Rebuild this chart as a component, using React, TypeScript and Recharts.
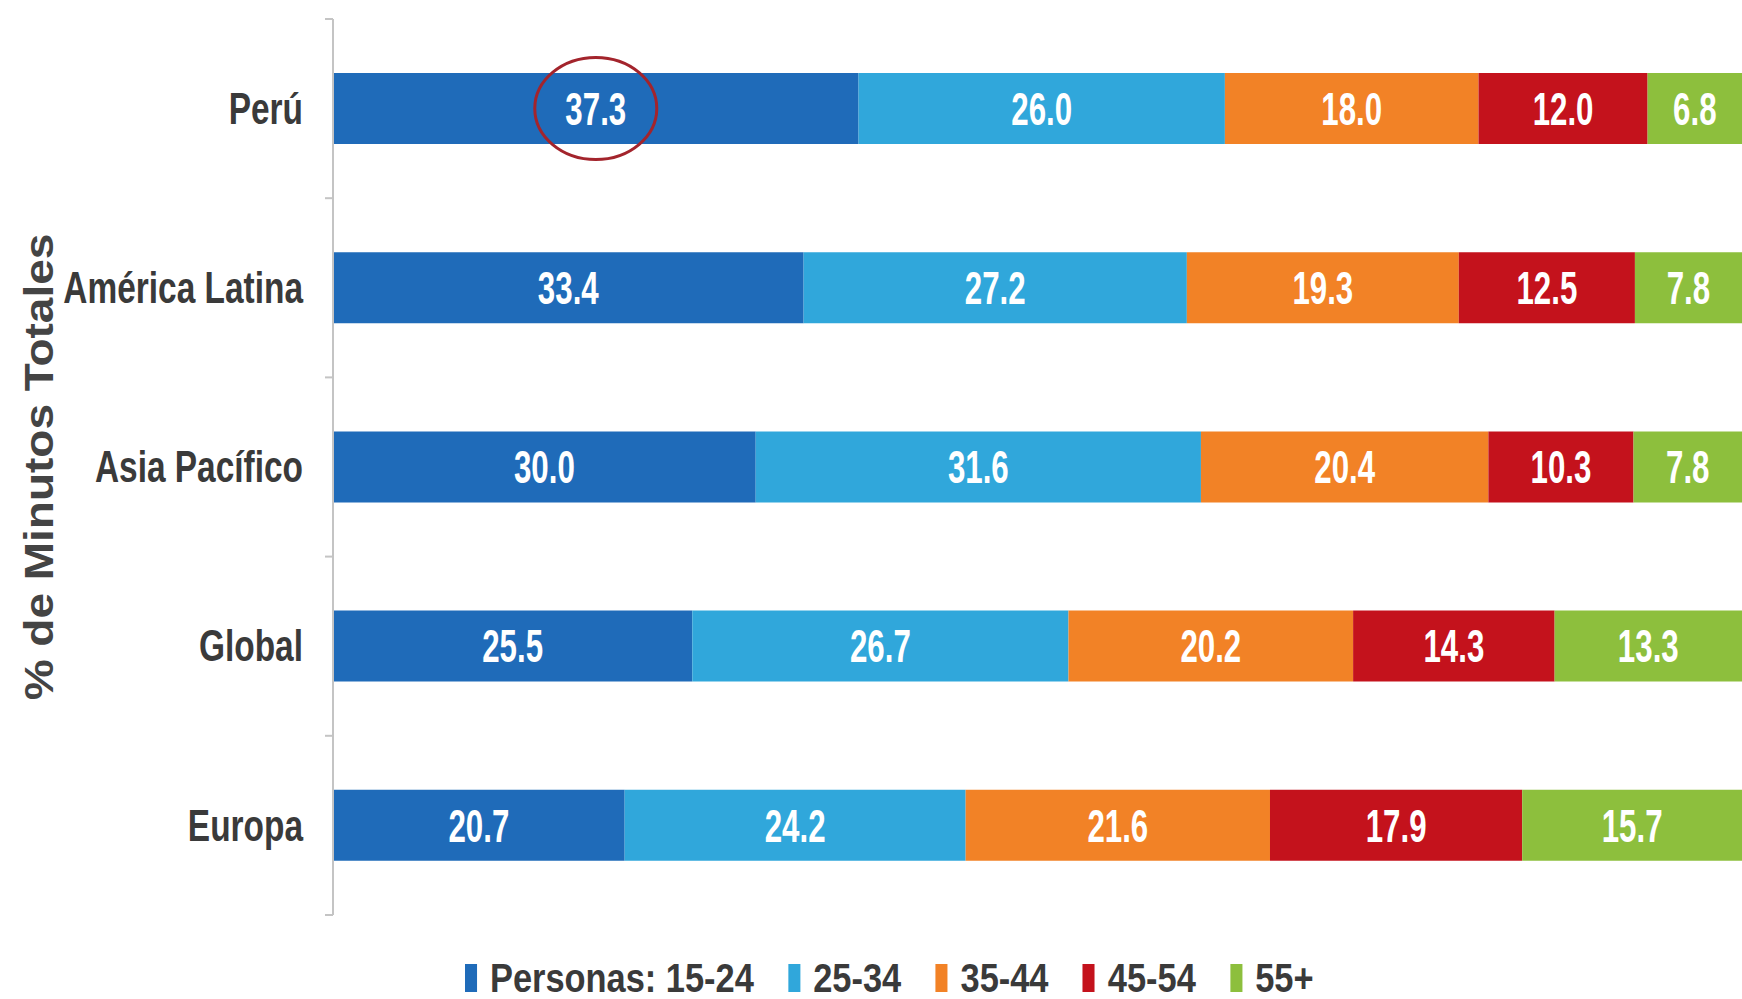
import { Bar, BarChart, LabelList, Legend, XAxis, YAxis } from 'recharts';

const categories = ['Perú', 'América Latina', 'Asia Pacífico', 'Global', 'Europa'];
const age1524 = [37.3, 33.4, 30.0, 25.5, 20.7];
const age2534 = [26.0, 27.2, 31.6, 26.7, 24.2];
const age3544 = [18.0, 19.3, 20.4, 20.2, 21.6];
const age4554 = [12.0, 12.5, 10.3, 14.3, 17.9];
const age55 = [6.8, 7.8, 7.8, 13.3, 15.7];

const seriesNames = ['Personas: 15-24', '25-34', '35-44', '45-54', '55+'];
const seriesKeys = ['a', 'b', 'c', 'd', 'e'];
const colors = ['#1f6bb9', '#30a7db', '#f28226', '#c4121c', '#8dbf3d'];

const data = categories.map((name, i) => ({
  name,
  a: age1524[i],
  b: age2534[i],
  c: age3544[i],
  d: age4554[i],
  e: age55[i],
}));

const FONT = "'Liberation Sans Narrow', 'Arial Narrow', 'Liberation Sans', Arial, sans-serif";
const W = 1742;
const H = 999;
const TOP = 19;
const BOTTOM = 915;
const AXIS_X = 333;
const band = (BOTTOM - TOP) / categories.length;

function CategoryTick(props: any) {
  const { y, payload, index } = props;
  return (
    <g>
      <text
        transform={`translate(303,${y}) scale(0.76,1)`}
        textAnchor="end"
        dominantBaseline="central"
        fontFamily={FONT}
        fontWeight="bold"
        fontSize={44}
        fill="#3a3a3a"
      >
        {payload.value}
      </text>
      <line x1={AXIS_X - 8} x2={AXIS_X} y1={y - band / 2} y2={y - band / 2} stroke="#c4c4c4" strokeWidth={2} />
      {index === categories.length - 1 && (
        <line x1={AXIS_X - 8} x2={AXIS_X} y1={y + band / 2} y2={y + band / 2} stroke="#c4c4c4" strokeWidth={2} />
      )}
    </g>
  );
}

function makeValueLabel(circled: boolean) {
  return (props: any) => {
    const { x, y, width, height, value, index } = props;
    const cx = x + width / 2;
    const cy = y + height / 2;
    return (
      <g>
        <text
          transform={`translate(${cx},${cy}) scale(0.68,1)`}
          textAnchor="middle"
          dominantBaseline="central"
          fontFamily={FONT}
          fontWeight="bold"
          fontSize={46}
          fill="#ffffff"
        >
          {Number(value).toFixed(1)}
        </text>
        {circled && index === 0 && (
          <ellipse cx={cx} cy={cy} rx={61} ry={51} fill="none" stroke="#a3242c" strokeWidth={3} />
        )}
      </g>
    );
  };
}

function AxisTitle() {
  return (
    <text
      transform={`translate(53,${(TOP + BOTTOM) / 2}) rotate(-90) scale(1,0.9)`}
      textAnchor="middle"
      fontFamily="'Liberation Sans', Arial, sans-serif"
      fontWeight="bold"
      fontSize={46}
      fill="#444444"
    >
      % de Minutos Totales
    </text>
  );
}

function LegendContent() {
  return (
    <div style={{ height: 48, paddingLeft: 465 }}>
      <div
        style={{
          height: 48,
          display: 'flex',
          alignItems: 'center',
          transform: 'scaleX(0.86)',
          transformOrigin: 'left center',
          fontFamily: FONT,
          fontWeight: 'bold',
          fontSize: 40,
          color: '#3a3a3a',
        }}
      >
        {seriesNames.map((n, i) => (
          <div key={n} style={{ display: 'flex', alignItems: 'center', marginRight: 40 }}>
            <span style={{ display: 'inline-block', width: 14, height: 28, background: colors[i], marginRight: 15 }} />
            <span>{n}</span>
          </div>
        ))}
      </div>
    </div>
  );
}

function App() {
  return (
    <div style={{ position: 'absolute', left: 0, top: 0, background: '#fff' }}>
      <BarChart
        width={W}
        height={H}
        data={data}
        layout="vertical"
        margin={{ top: TOP, right: 0, bottom: H - BOTTOM - 48, left: 0 }}
      >
        <XAxis type="number" domain={[0, 100]} hide allowDataOverflow />
        <YAxis
          type="category"
          dataKey="name"
          width={AXIS_X}
          axisLine={{ stroke: '#c4c4c4', strokeWidth: 2 }}
          tickLine={false}
          tick={CategoryTick}
          interval={0}
          label={{ content: AxisTitle }}
        />
        <Legend verticalAlign="bottom" height={48} content={LegendContent} wrapperStyle={{ left: 0, width: W, bottom: -3 }} />
        {seriesKeys.map((k, i) => (
          <Bar key={k} dataKey={k} name={seriesNames[i]} stackId="s" fill={colors[i]} barSize={71} isAnimationActive={false}>
            <LabelList dataKey={k} content={makeValueLabel(i === 0)} />
          </Bar>
        ))}
      </BarChart>
    </div>
  );
}

export default App;
